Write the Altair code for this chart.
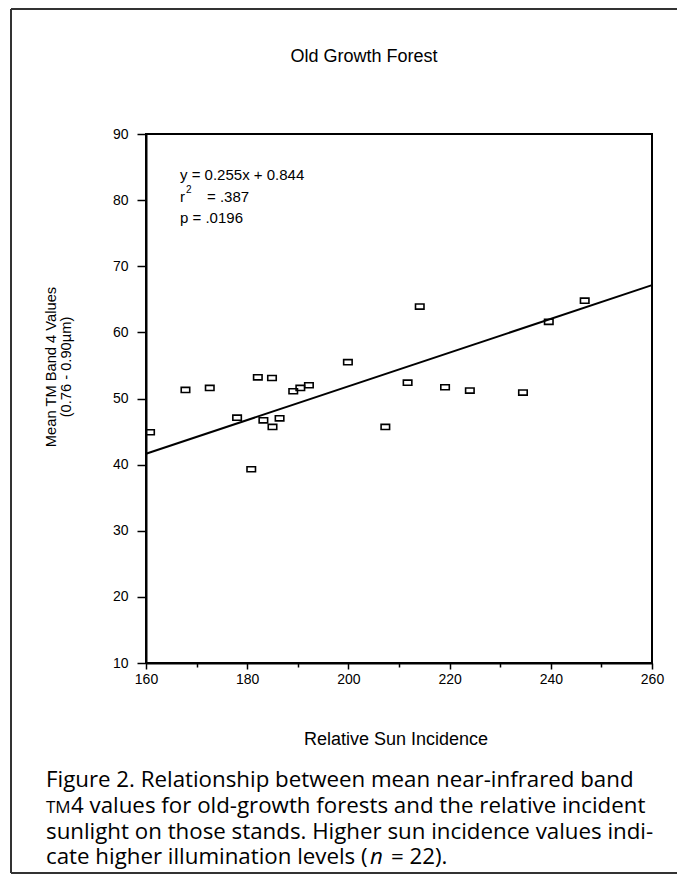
import altair as alt
import pandas as pd

# ---- data ----
sun_incidence = [160.8, 167.8, 172.6, 178.0, 180.8, 182.1, 183.2, 184.9, 185.0, 186.4, 189.1,
                 190.5, 192.2, 199.9, 207.3, 211.7, 214.1, 219.1, 224.0, 234.5, 239.6, 246.7]
tm4_values = [44.9, 51.3, 51.6, 47.1, 39.3, 53.2, 46.7, 53.1, 45.7, 47.0, 51.1,
              51.6, 52.0, 55.5, 45.7, 52.4, 63.9, 51.7, 51.2, 50.9, 61.6, 64.8]
fit_slope = 0.255
fit_intercept = 0.844
fit_x_ends = [160, 260]

x_tick_values = [160, 165, 170, 175, 180, 185, 190, 195, 200, 205, 210, 215, 220,
                 225, 230, 235, 240, 245, 250, 255, 260]
y_tick_values = [10, 15, 20, 25, 30, 35, 40, 45, 50, 55, 60, 65, 70, 75, 80, 85, 90]

title_text = "Old Growth Forest"
x_title = "Relative Sun Incidence"
y_title_lines = ["Mean TM Band 4 Values", "(0.76 - 0.90\u00b5m)"]
caption_line1 = "Figure 2. Relationship between mean near-infrared band"
caption_line2_sc = "TM"
caption_line2 = "4 values for old-growth forests and the relative incident"
caption_line3 = "sunlight on those stands. Higher sun incidence values indi-"
caption_line4a = "cate higher illumination levels ("
caption_line4n = "n"
caption_line4b = "=  22)."

FONT = "Liberation Sans"
CAP_FONT = "Open Sans"

pts = pd.DataFrame({"x": sun_incidence, "y": tm4_values})
fit = pd.DataFrame({"x": fit_x_ends, "y": [fit_slope * v + fit_intercept for v in fit_x_ends]})
one = alt.InlineData(values=[{}])

xscale = alt.Scale(domain=[160, 260], nice=False, zero=False)
yscale = alt.Scale(domain=[10, 90], nice=False, zero=False)

xaxis = alt.Axis(values=x_tick_values, title=None, grid=False,
                 labelExpr="datum.value % 20 === 0 ? datum.label : ''",
                 tickSize={"condition": {"test": "datum.value % 20 === 0", "value": 6}, "value": 4},
                 labelPadding=3, labelFlush=False)
yaxis = alt.Axis(values=y_tick_values, title=None, grid=False,
                 labelExpr="datum.value % 10 === 0 ? datum.label : ''",
                 tickSize={"condition": {"test": "datum.value % 10 === 0", "value": 9}, "value": 5},
                 labelPadding=9, labelFlush=False)

points = alt.Chart(pts).mark_point(
    shape="M-1,-0.6L1,-0.6L1,0.6L-1,0.6Z", size=72, filled=False,
    stroke="black", strokeWidth=1.6, opacity=1
).encode(
    x=alt.X("x:Q", scale=xscale, axis=xaxis),
    y=alt.Y("y:Q", scale=yscale, axis=yaxis),
)

line = alt.Chart(fit).mark_line(color="black", strokeWidth=2).encode(
    x=alt.X("x:Q", scale=xscale),
    y=alt.Y("y:Q", scale=yscale),
)


def txt(s, x, y, size=13, align="left", font=FONT, angle=0, style="normal"):
    props = dict(font=font, fontSize=size, align=align, baseline="middle",
                 color="black", fontStyle=style)
    if angle:
        props["angle"] = angle
    return alt.Chart(one).mark_text(**props).encode(
        x=alt.value(x), y=alt.value(y), text=alt.value(s))


def rule(x1, x2, y1, y2, w=2):
    return alt.Chart(one).mark_rule(color="#333333", strokeWidth=w).encode(
        x=alt.value(x1), x2=alt.value(x2), y=alt.value(y1), y2=alt.value(y2))


CAP = 22.3
layers = [
    line, points,
    txt(title_text, 218, -77, size=18, align="center"),
    txt("y = 0.255x + 0.844", 34, 41, size=15),
    txt("r", 34, 63, size=15),
    txt("2", 40, 56, size=10),
    txt("= .387", 61, 63, size=15),
    txt("p = .0196", 34, 84, size=15),
    txt(y_title_lines[0], -94, 233, size=14.7, align="center", angle=270),
    txt(y_title_lines[1], -79, 233, size=14.7, align="center", angle=270),
    txt(x_title, 250, 606, size=18, align="center"),
    rule(-135, 539, -125, -125),
    rule(-135, -135, -125, 739),
    rule(-135, 539, 739, 739),
    txt(caption_line1, -100, 646, size=CAP, font=CAP_FONT),
    txt(caption_line2_sc, -100, 673.5, size=17, font=CAP_FONT),
    txt(caption_line2, -75, 672, size=CAP, font=CAP_FONT),
    txt(caption_line3, -100, 698, size=CAP, font=CAP_FONT),
    txt(caption_line4a, -100, 723, size=CAP, font=CAP_FONT),
    txt(caption_line4n, 224, 723, size=CAP, font=CAP_FONT, style="italic"),
    txt(caption_line4b, 245, 723, size=CAP, font=CAP_FONT),
]

chart = alt.layer(*layers).properties(
    width=506, height=529,
    autosize=alt.AutoSizeParams(type="none"),
    padding={"left": 138, "top": 126, "right": 25, "bottom": 211},
).configure_view(stroke="black", strokeWidth=2).configure_axis(
    domainColor="black", domainWidth=2, tickColor="black", tickWidth=1.5,
    labelFont=FONT, labelFontSize=14, labelColor="black",
)

chart.save("out.html", embed_options={"renderer": "svg", "actions": False})
